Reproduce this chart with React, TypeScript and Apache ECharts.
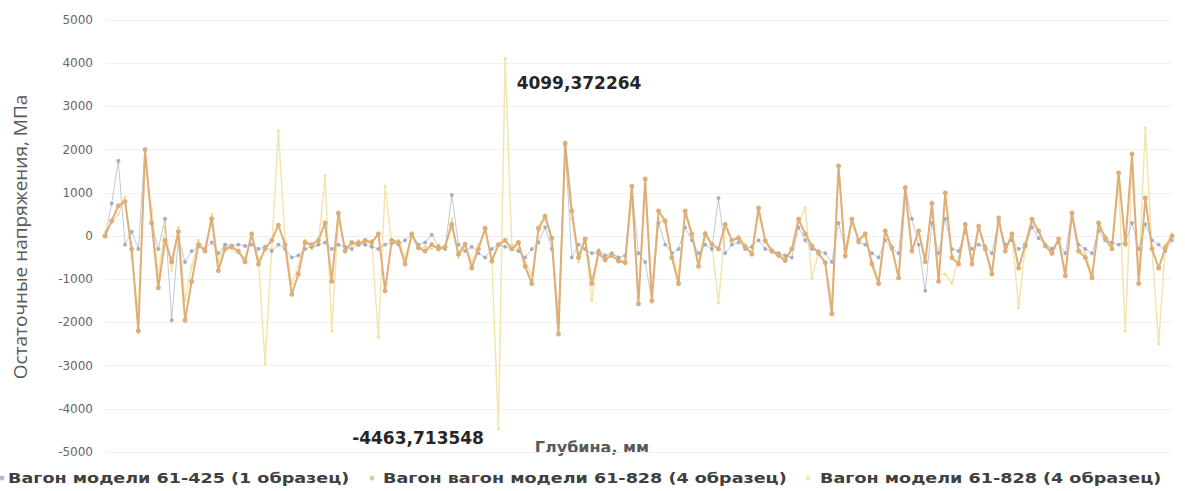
import React, { useEffect, useRef } from "react";
import * as echarts from "echarts";

// Legend names of the three measured wagons
const seriesNames = [
  "Вагон модели 61-425 (1 образец)",
  "Вагон вагон модели 61-828 (4 образец)",
  "Вагон модели 61-828 (4 образец)",
];

// Residual stress, MPa, along the depth of the sample
const wagon425 = [
  0, 750, 1740, -200, 100, -300, 2000, 300, -300, 400,
  -1950, -50, -600, -350, -250, -300, -150, -400, -200, -220,
  -200, -230, -200, -300, -250, -350, -200, -300, -500, -450,
  -300, -250, -200, -150, -300, -200, -250, -300, -150, -200,
  -250, -300, -200, -150, -200, -100, 50, -200, -150, 30,
  -250, -300, 950, -200, -350, -250, -400, -500, -300, -200,
  -250, -300, -350, -500, -300, -150, 200, -300, -2000, 2100,
  -500, -200, -300, -400, -350, -450, -400, -500, -450, 1150,
  -400, -600, -1500, 300, -200, -400, -300, 200, -100, -400,
  -200, -300, 880, -400, -200, -150, -300, -250, -100, -300,
  -350, -400, -450, -500, 200, -100, -300, -350, -400, -600,
  300, -300, 400, -150, -200, -400, -500, -100, -300, -400,
  1120, 400, -200, -1270, 300, -400, 400, -300, -350, 100,
  -300, -200, -250, -400, 350, -200, -100, -300, -250, 200,
  -50, -200, -300, -150, -400, 530, -200, -300, -400, 120,
  -100, -150, -200, -150, 300, -300, 270, -100, -200, -350,
  -100,
];

const wagon828a = [
  0, 350, 700, 800, -300, -2200, 2000, 300, -1200, -100,
  -600, 100, -1950, -1050, -200, -350, 400, -800, -300, -250,
  -350, -600, 50, -650, -300, -100, 250, -200, -1350, -880,
  -150, -200, -100, 300, -1050, 530, -350, -150, -200, -100,
  -150, 50, -1270, -100, -150, -650, 50, -270, -350, -200,
  -300, -250, 270, -420, -190, -740, -300, 180, -580, -200,
  -100, -300, -150, -700, -1100, 180, 460, -50, -2270, 2150,
  580, -500, -70, -1100, -400, -550, -450, -580, -620, 1150,
  -1570, 1320, -1500, 580, 350, -500, -1100, 580, 50, -700,
  50, -190, -300, 270, -100, -50, -250, -420, 650, -110,
  -350, -450, -570, -300, 390, 50, -230, -400, -620, -1800,
  1620, -460, 390, -100, 50, -650, -1100, 120, -270, -970,
  1120, -350, 120, -600, 760, -1050, 1000, -500, -650, 270,
  -650, 230, -300, -880, 420, -350, 50, -740, -200, 390,
  120, -230, -400, -70, -920, 530, -350, -500, -970, 300,
  -50, -300, 1460, -190, 1900, -1100, 880, -300, -740, -270,
  0,
];

const wagon828b = [
  100, 300, 500, 900, -500, -1800, 1700, 600, -900, 200,
  -800, 200, -1500, -700, -100, -300, 500, -600, -200, -300,
  -400, -500, 0, -500, -2950, -300, 2430, -100, -1100, -700,
  -100, -300, -200, 1400, -2200, 400, -300, -200, -100, -200,
  -100, -2350, 1150, -200, -100, -500, 0, -300, -250, -300,
  -200, -300, 400, -500, -200, -600, -200, 100, -500, -4463.713548,
  4099.372264, -200, -300, -600, -900, 100, 400, -100, -1800, 1800,
  400, -600, -100, -1500, -300, -500, -400, -500, -600, 900,
  -1400, 1100, -1200, 400, 300, -400, -900, 500, 0, -600,
  100, -200, -1550, 200, -100, 0, -200, -400, 500, -100,
  -300, -400, -500, -300, 300, 650, -970, -400, -600, -1500,
  1620, -500, 300, -100, 0, -600, -1000, 100, -300, -970,
  900, -300, 100, -500, 600, -900, -880, -1100, -500, 200,
  -600, 200, -300, -800, 300, -300, 0, -1660, -200, 300,
  100, -200, -300, -100, -800, 400, -300, -400, -900, 200,
  0, -200, 1200, -2200, 1500, -900, 2500, -300, -2500, -200,
  50,
];

// Depth steps along the x axis
const depthSteps = wagon425.map((_, i) => String(i + 1));

const yMin = -5000;
const yMax = 5000;
const yStep = 1000;

const colors = [
  "#8e9cb8",
  "#dfae78",
  "#f0df98",
];

// Horizontal placement of the legend entries (marker x, text x)
const legendSlots = [
  { dot: 2, text: 8 },
  { dot: 372, text: 383 },
  { dot: 808, text: 820 },
];

const commaNumber = (v: number) => String(v).replace(".", ",");

export default function App() {
  const ref = useRef<HTMLDivElement>(null);

  useEffect(() => {
    if (!ref.current) return;
    const chart = echarts.init(ref.current, undefined, { renderer: "svg" });

    const maxIdx = wagon828b.indexOf(Math.max(...wagon828b));
    const minIdx = wagon828b.indexOf(Math.min(...wagon828b));
    const extremeLabel = {
      show: true,
      color: "#262626",
      fontFamily: "DejaVu Sans",
      fontWeight: "bold" as const,
      fontSize: 17,
      formatter: (p: any) => commaNumber(p.value),
    };
    const wagon828bData = wagon828b.map((v, i) => {
      if (i === maxIdx) {
        return { value: v, label: { ...extremeLabel, position: "right", offset: [5, 24] } };
      }
      if (i === minIdx) {
        return { value: v, label: { ...extremeLabel, position: "left", offset: [-8, 9] } };
      }
      return v;
    });

    const legendGraphics = seriesNames.map((name, i) => ({
      type: "group",
      children: [
        {
          type: "circle",
          shape: { cx: legendSlots[i].dot, cy: 478, r: 2.5 },
          style: { fill: colors[i], opacity: 0.7 },
        },
        {
          type: "text",
          x: legendSlots[i].text,
          y: 478,
          scaleX: 1.255,
          style: {
            text: name,
            fontFamily: "DejaVu Sans",
            fontWeight: "bold",
            fontSize: 14,
            fill: "#404040",
            align: "left",
            verticalAlign: "middle",
          },
        },
      ],
    }));

    chart.setOption({
      animation: false,
      backgroundColor: "#ffffff",
      grid: { left: 105, right: 13, top: 20, bottom: 39 },
      xAxis: {
        type: "category",
        data: depthSteps,
        boundaryGap: false,
        axisLine: { show: false },
        axisTick: { show: false },
        axisLabel: { show: false },
        splitLine: { show: false },
      },
      yAxis: {
        type: "value",
        min: yMin,
        max: yMax,
        interval: yStep,
        axisLine: { show: false },
        axisTick: { show: false },
        axisLabel: {
          margin: 12,
          fontFamily: "DejaVu Sans",
          fontSize: 12,
          color: "#666666",
          formatter: (v: number) => String(v),
        },
        splitLine: { lineStyle: { color: "#f0f0f0", width: 1 } },
      },
      graphic: [
        {
          type: "text",
          x: 20,
          y: 237,
          rotation: Math.PI / 2,
          style: {
            text: "Остаточные напряжения, МПа",
            fontFamily: "Open Sans",
            fontSize: 19,
            fill: "#595959",
            align: "center",
            verticalAlign: "middle",
          },
        },
        {
          type: "text",
          x: 592,
          y: 447,
          style: {
            text: "Глубина, мм",
            fontFamily: "DejaVu Sans",
            fontWeight: "bold",
            fontSize: 16,
            fill: "#595959",
            align: "center",
            verticalAlign: "middle",
          },
        },
        ...legendGraphics,
      ],
      series: [
        {
          name: seriesNames[0],
          type: "line",
          data: wagon425,
          z: 2,
          symbol: "circle",
          symbolSize: 4,
          showAllSymbol: true,
          lineStyle: { color: colors[0], width: 1, opacity: 0.55 },
          itemStyle: { color: colors[0], opacity: 0.75 },
        },
        {
          name: seriesNames[1],
          type: "line",
          data: wagon828a,
          z: 3,
          symbol: "circle",
          symbolSize: 5,
          showAllSymbol: true,
          lineStyle: { color: colors[1], width: 2 },
          itemStyle: { color: colors[1] },
        },
        {
          name: seriesNames[2],
          type: "line",
          data: wagon828bData,
          z: 1,
          symbol: "circle",
          symbolSize: 3,
          showAllSymbol: true,
          label: { show: false },
          lineStyle: { color: colors[2], width: 1.5, opacity: 0.8 },
          itemStyle: { color: colors[2] },
        },
      ],
    });

    return () => chart.dispose();
  }, []);

  return (
    <div
      ref={ref}
      style={{ position: "fixed", left: 0, top: 0, width: 1185, height: 491 }}
    />
  );
}
